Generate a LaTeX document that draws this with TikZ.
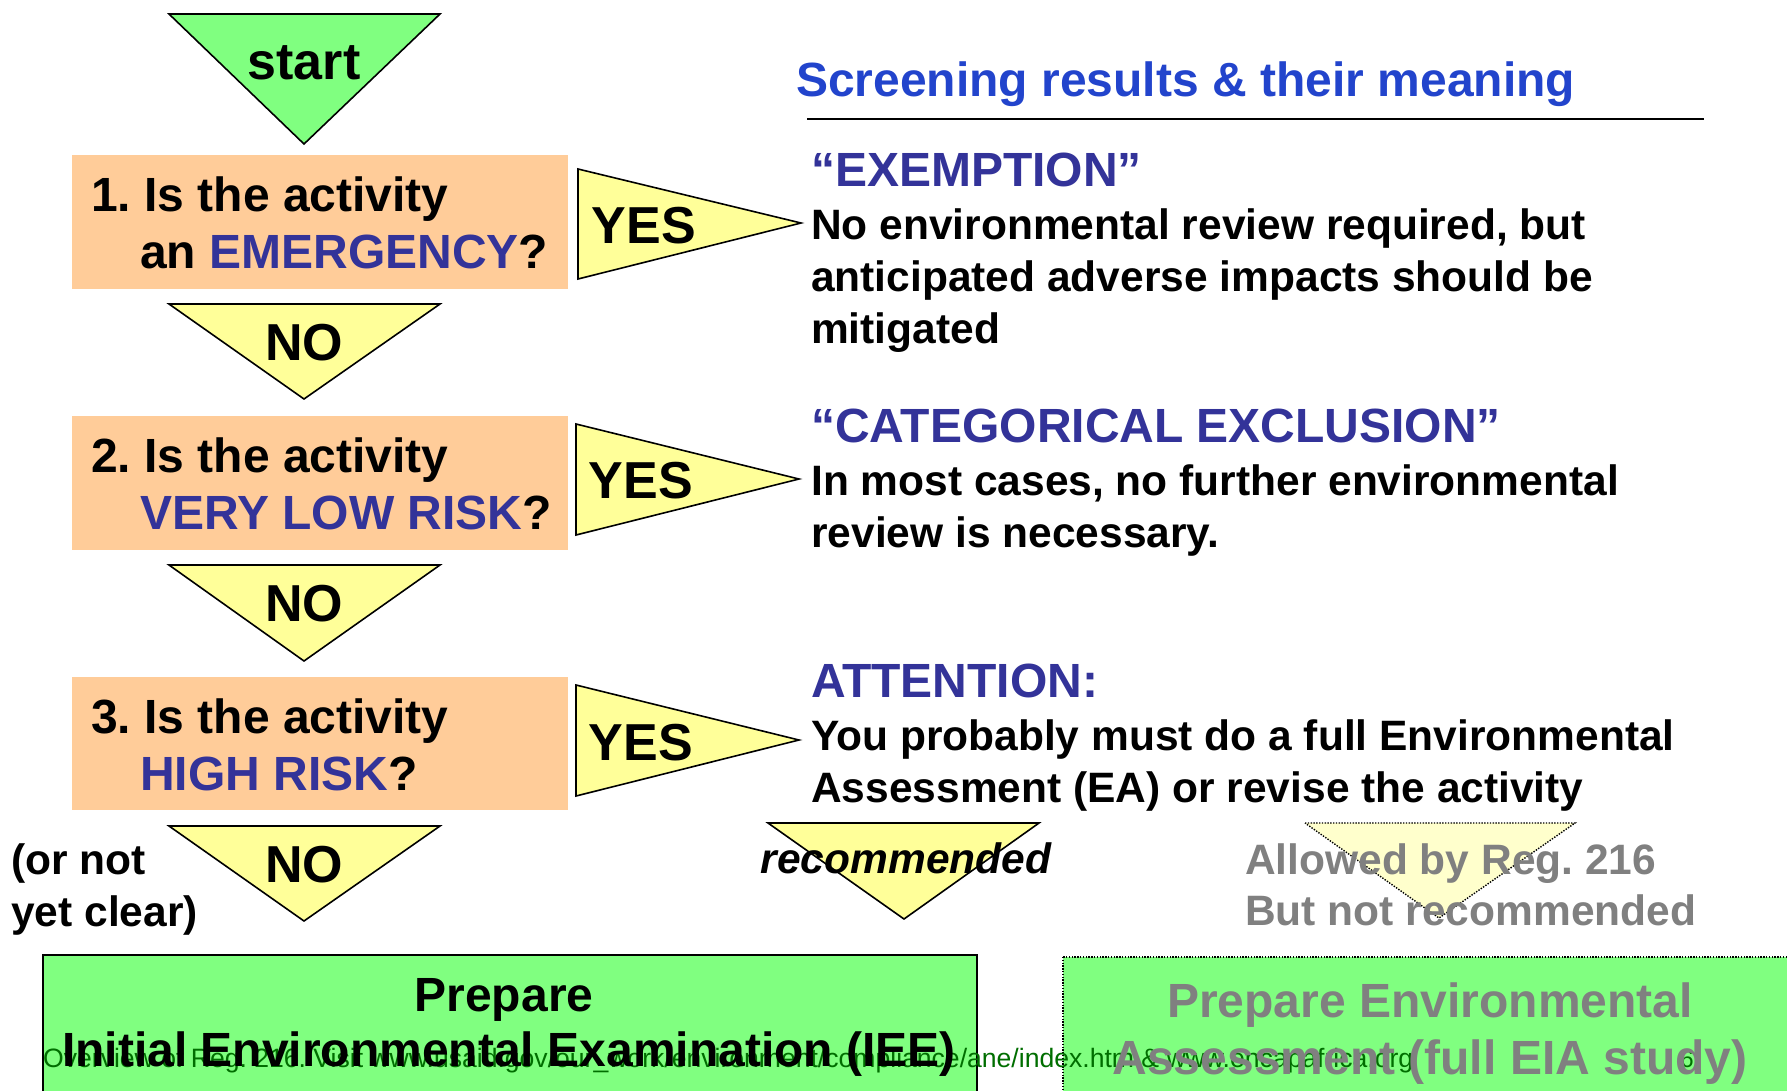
\documentclass[tikz,border=0pt]{standalone}
\usepackage{graphicx}
\usepackage{fontspec}
\setmainfont{Liberation Sans}
\frenchspacing
\definecolor{orangebox}{RGB}{255,204,153}
\definecolor{greenbox}{RGB}{128,255,128}
\definecolor{yel}{RGB}{255,255,153}
\definecolor{paleyel}{RGB}{255,255,204}
\definecolor{navy}{RGB}{51,51,153}
\definecolor{titleblue}{RGB}{34,68,204}
\definecolor{fgray}{RGB}{128,128,128}
\definecolor{footgreen}{RGB}{0,110,0}
\begin{document}
\frenchspacing
\begin{tikzpicture}[x=1pt,y=-1pt,
  tri/.style={draw=black,line width=1.6pt,line join=miter},
  faded/.style={draw=black,line width=1.4pt,dash pattern=on 1.4pt off 1.4pt},
  big/.style={font=\bfseries\fontsize{48}{57}\selectfont\frenchspacing,inner sep=0pt,anchor=base west},
  lab/.style={font=\bfseries\fontsize{52}{60}\selectfont,inner sep=0pt,anchor=base},
  body/.style={font=\bfseries\fontsize{42.5}{52}\selectfont\frenchspacing,inner sep=0pt,anchor=base west},
]
\useasboundingbox (0,0) rectangle (1787,1090);
\fill[white] (0,0) rectangle (1787,1090);

% start triangle
\filldraw[fill=greenbox,tri] (169,14) -- (440,14) -- (304,144) -- cycle;
\node[lab] (start) at (304,79) {start};

% question boxes
\fill[orangebox] (72,155) rectangle (568,289);
\fill[orangebox] (72,416) rectangle (568,550);
\fill[orangebox] (72,677) rectangle (568,810);
\node[big] (q1a) at (91,211) {1. Is the activity};
\node[big] (q1b) at (140,268) {an \textcolor{navy}{EMERGENCY}?};
\node[big] (q2a) at (91,472) {2. Is the activity};
\node[big] (q2b) at (140,529) {\textcolor{navy}{VERY LOW RISK}?};
\node[big] (q3a) at (91,733) {3. Is the activity};
\node[big] (q3b) at (140,790) {\textcolor{navy}{HIGH RISK}?};

% NO triangles
\filldraw[fill=yel,tri] (169,304) -- (440,304) -- (304,399) -- cycle;
\filldraw[fill=yel,tri] (169,565) -- (440,565) -- (304,661) -- cycle;
\filldraw[fill=yel,tri] (169,826) -- (440,826) -- (304,921) -- cycle;
\node[lab] (no1) at (304,360) {NO};
\node[lab] (no2) at (304,621) {NO};
\node[lab] (no3) at (304,882) {NO};

% YES triangles
\filldraw[fill=yel,tri] (578,169) -- (801,223) -- (578,279) -- cycle;
\filldraw[fill=yel,tri] (576,424) -- (799,479) -- (576,535) -- cycle;
\filldraw[fill=yel,tri] (576,685) -- (799,740) -- (576,796) -- cycle;
\node[lab] (yes1) at (644,243) {YES};
\node[lab] (yes2) at (641,498) {YES};
\node[lab] (yes3) at (641,760) {YES};

% title
\node[font=\bfseries\fontsize{48}{57}\selectfont,text=titleblue,inner sep=0pt,anchor=base west] (title) at (796,96) {Screening results \& their meaning};
\draw[line width=2pt] (807,119) -- (1704,119);

% results text
\node[big,text=navy] (r1h) at (811,186) {“EXEMPTION”};
\node[body] (r1a) at (811,239) {No environmental review required, but};
\node[body] (r1b) at (811,291) {anticipated adverse impacts should be};
\node[body] (r1c) at (811,343) {mitigated};
\node[big,text=navy] (r2h) at (811,442) {“CATEGORICAL EXCLUSION”};
\node[body] (r2a) at (811,495) {In most cases, no further environmental};
\node[body] (r2b) at (811,547) {review is necessary.};
\node[big,text=navy] (r3h) at (811,697) {ATTENTION:};
\node[body] (r3a) at (811,750) {You probably must do a full Environmental};
\node[body] (r3b) at (811,802) {Assessment (EA) or revise the activity};

% or not yet clear
\node[body] (ornot1) at (11,874) {(or not};
\node[body] (ornot2) at (11,926) {yet clear)};

% recommended triangle
\filldraw[fill=yel,tri] (768,823) -- (1039,823) -- (904,919) -- cycle;
\node[body,anchor=base,font=\bfseries\itshape\fontsize{42.5}{52}\selectfont] (rec) at (906,873) {recommended};

% faded triangle
\filldraw[fill=paleyel,faded] (1305,823) -- (1575,823) -- (1439,918) -- cycle;
\node[body,text=fgray] (allow1) at (1245,874) {Allowed by Reg. 216};
\node[body,text=fgray] (allow2) at (1245,925) {But not recommended};

% bottom boxes
\filldraw[fill=greenbox,draw=black,line width=2pt] (43,955) rectangle (977,1100);
\filldraw[fill=greenbox,faded] (1063,957) rectangle (1800,1100);

% footer
\node[anchor=base west,inner sep=0pt,text=footgreen] (foot) at (43,1067) {\resizebox{1370pt}{!}{\fontsize{24}{24}\selectfont Overview of Reg. 216. Visit www.usaid.gov/our\_work/environment/compliance/ane/index.htm \& www.encapafrica.org}};
\node[anchor=base,inner sep=0pt,text=footgreen,font=\fontsize{24}{24}\selectfont] (pagenum) at (1687,1067) {6};

% bottom box text
\node[big,anchor=base] (iee1) at (504,1011) {Prepare};
\node[big,anchor=base] (iee2) at (509,1066) {Initial Environmental Examination (IEE)};
\node[big,anchor=base,text=fgray] (ea1) at (1430,1017) {Prepare Environmental};
\node[big,anchor=base,text=fgray] (ea2) at (1430,1074) {Assessment (full EIA study)};
\end{tikzpicture}
\end{document}
